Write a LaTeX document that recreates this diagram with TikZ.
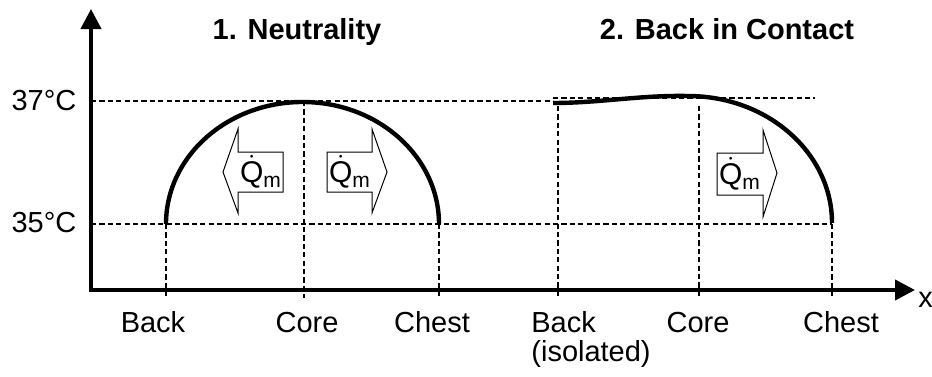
\documentclass[tikz,border=0pt]{standalone}
\usepackage{amsmath}
\usepackage{fontspec}
\setmainfont{Liberation Sans}
\usetikzlibrary{arrows.meta}
\tikzstyle{guide} = [line width=0.6pt, dash pattern=on 2.6pt off 1.6pt]
\tikzstyle{axis} = [line width=2pt, line join=miter, {Triangle[length=10pt,width=10pt]}-{Triangle[length=10pt,width=10pt]}]
\tikzstyle{profile} = [line width=2.2pt]
\tikzstyle{flux} = [draw, line width=0.5pt, line join=miter]
\tikzstyle{lbl} = [anchor=base, inner sep=0pt, font=\fontsize{14.5}{17}\selectfont]
\tikzstyle{qlbl} = [inner sep=0pt, font=\fontsize{15}{17}\selectfont]

\begin{document}
\begin{tikzpicture}[x=0.5pt, y=0.5pt]
\useasboundingbox (0,0) rectangle (932,376);

% axes
\coordinate (ytip) at (91,367);
\coordinate (origin) at (91,86);
\coordinate (xtip) at (915,86);
\draw[axis] (ytip) -- (origin) -- (xtip);
\node [lbl, anchor=base west] at (918,69) (xlab) {x};

% temperature levels
\node [lbl] at (44,266) (t37) {37°C};
\node [lbl] at (44,144) (t35) {35°C};
\coordinate (h37a) at (91,275);
\coordinate (h37b) at (553,275);
\coordinate (h37c) at (553,278);
\coordinate (h37d) at (815,278);
\coordinate (h35a) at (91,152);
\coordinate (h35b) at (832,152);
\draw[guide] (h37a) -- (h37b);
\draw[guide] (h37c) -- (h37d);
\draw[guide] (h35a) -- (h35b);

%%%% 1. neutrality
\node [lbl, font=\fontsize{14.5}{17}\selectfont\bfseries] at (297,336) (title1) {1. Neutrality};

\coordinate (back1) at (166,152);
\coordinate (core1) at (304,275);
\coordinate (chest1) at (439,152);
\coordinate (back1b) at (166,78);
\coordinate (core1b) at (304,78);
\coordinate (chest1b) at (439,78);
\draw[guide] (back1) -- (back1b);
\draw[guide] (core1) -- (core1b);
\draw[guide] (chest1) -- (chest1b);

\node [lbl] at (153,44) (lback1) {Back};
\node [lbl] at (307,44) (lcore1) {Core};
\node [lbl] at (432,44) (lchest1) {Chest};

\draw[profile] (back1) arc[start angle=180, end angle=0, x radius=136.5, y radius=122];

% heat flux arrows
\draw[flux] (283,224) -- (238,224) -- (238,247) -- (223,204) -- (238,163) -- (238,184) -- (283,184) -- cycle;
\node [qlbl] at (261,204) (q1) {\(\dot{\text{Q}}\)\textsubscript{m}};
\draw[flux] (327,224) -- (372,224) -- (372,247) -- (387,204) -- (372,163) -- (372,184) -- (327,184) -- cycle;
\node [qlbl] at (350,204) (q2) {\(\dot{\text{Q}}\)\textsubscript{m}};

%%%% 2. back in contact
\node [lbl, font=\fontsize{14.5}{17}\selectfont\bfseries] at (727,336) (title2) {2. Back in Contact};

\coordinate (back2) at (558,270);
\coordinate (core2) at (699,270);
\coordinate (chest2) at (832,152);
\coordinate (back2b) at (558,78);
\coordinate (core2b) at (699,78);
\coordinate (chest2b) at (832,78);
\draw[guide] (back2) -- (back2b);
\draw[guide] (core2) -- (core2b);
\draw[guide] (chest2) -- (chest2b);

\node [lbl, anchor=base west] at (531,44) (lback2) {Back};
\node [lbl, anchor=base west] at (531,15) (liso) {(isolated)};
\node [lbl] at (698,44) (lcore2) {Core};
\node [lbl] at (841,44) (lchest2) {Chest};

\coordinate (start2) at (553,273);
\coordinate (peak2) at (688,280);
\draw[profile] (start2) .. controls (600,273) and (640,281) .. (peak2)
  arc[start angle=90, end angle=0, x radius=144, y radius=127];

\draw[flux] (717,223) -- (763,223) -- (763,246) -- (777,203) -- (763,159) -- (763,181) -- (717,181) -- cycle;
\node [qlbl] at (740,202) (q3) {\(\dot{\text{Q}}\)\textsubscript{m}};
\end{tikzpicture}
\end{document}
